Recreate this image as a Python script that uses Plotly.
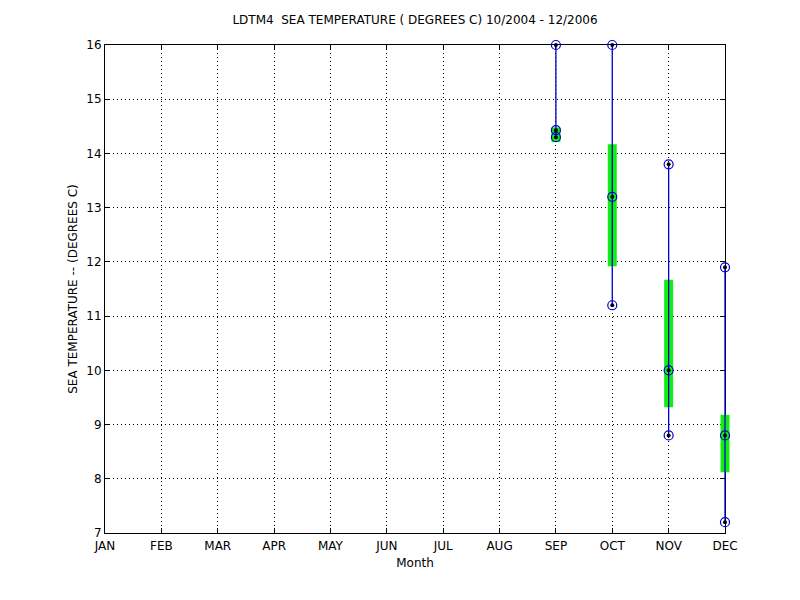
import plotly.graph_objects as go

months = ["JAN", "FEB", "MAR", "APR", "MAY", "JUN", "JUL", "AUG", "SEP", "OCT", "NOV", "DEC"]
data_month = [9, 10, 11, 12]
max_vals = [16.0, 16.0, 13.8, 11.9]
min_vals = [14.3, 11.2, 8.8, 7.2]
mean_vals = [14.43, 13.2, 10.0, 8.8]
box_low = [14.21, 11.92, 9.32, 8.12]
box_high = [14.48, 14.17, 11.67, 9.18]

W, H = 800, 600
OFF = 8  # page body margin
L, R, T, B = 95 - OFF, 65 + OFF, 45 - OFF, 67 + OFF
ax_left, ax_right = 105 - OFF, 725 - OFF
pw = W - L - R
d0 = (ax_left - L) / pw
d1 = (ax_right - L) / pw
unit = (ax_right - ax_left) / 11.0
ext_l = (ax_left - L) / unit
ext_r = (W - R - ax_right) / unit

fig = go.Figure()

# invisible trace so the main month axis is drawn
fig.add_trace(go.Scatter(x=[1, 12], y=[None, None], mode="lines", xaxis="x", yaxis="y",
                         hoverinfo="skip", showlegend=False))

# green boxes (on a wider twin axis so the DEC box is not clipped)
bx, by = [], []
for m, lo, hi in zip(data_month, box_low, box_high):
    bx += [m, m, None]
    by += [lo, hi, None]
fig.add_trace(go.Scatter(x=bx, y=by, mode="lines", xaxis="x2", yaxis="y2",
                         line=dict(color="#11ee11", width=9), hoverinfo="skip", showlegend=False))

# whiskers
lx, ly = [], []
for m, lo, hi in zip(data_month, min_vals, max_vals):
    lx += [m, m, None]
    ly += [lo, hi, None]
fig.add_trace(go.Scatter(x=lx, y=ly, mode="lines", xaxis="x2", yaxis="y2",
                         line=dict(color="#0000cc", width=1.3), showlegend=False))

# markers
px, py = [], []
for m, a, b, c in zip(data_month, max_vals, mean_vals, min_vals):
    px += [m, m, m]
    py += [a, b, c]
fig.add_trace(go.Scatter(x=px, y=py, mode="markers", xaxis="x2", yaxis="y2", cliponaxis=False,
                         marker=dict(symbol="circle-open", size=9, color="#0000cc", line=dict(width=1.2)),
                         showlegend=False))
fig.add_trace(go.Scatter(x=px, y=py, mode="markers", xaxis="x2", yaxis="y2", cliponaxis=False,
                         marker=dict(symbol="circle", size=4, color="black"),
                         showlegend=False))

FAM = "DejaVu Sans, Arial, sans-serif"
font = dict(family=FAM, size=12, color="black")

fig.update_layout(
    width=W, height=H,
    margin=dict(l=L, r=R, t=T, b=B),
    paper_bgcolor="white", plot_bgcolor="rgba(0,0,0,0)",
    font=font,
    title=dict(text="LDTM4  SEA TEMPERATURE ( DEGREES C) 10/2004 - 12/2006",
               x=0.5, xref="paper", y=1 - (20 - OFF) / H, yanchor="middle", xanchor="center",
               font=dict(size=12, family=FAM, color="black")),
    xaxis=dict(domain=[d0, d1], range=[1, 12], anchor="y",
               tickmode="array", tickvals=list(range(1, 13)), ticktext=months,
               showgrid=True, gridcolor="black", griddash="1px,3px", gridwidth=1,
               showline=True, linecolor="black", linewidth=1, mirror="ticks",
               ticks="inside", ticklen=5, tickcolor="black",
               ticklabelstandoff=2,
               zeroline=False,
               title=dict(text="Month", standoff=6, font=font)),
    xaxis2=dict(domain=[0, 1], range=[1 - ext_l, 12 + ext_r], visible=False, anchor="y2",
                showgrid=False, zeroline=False),
    yaxis=dict(range=[7, 16], anchor="x", tickmode="linear", tick0=7, dtick=1,
               showgrid=True, gridcolor="black", griddash="1px,3px", gridwidth=1,
               showline=True, linecolor="black", linewidth=1, mirror="ticks",
               ticks="inside", ticklen=5, tickcolor="black",
               zeroline=False,
               title=dict(text="SEA TEMPERATURE -- (DEGREES C)", standoff=6, font=font)),
    yaxis2=dict(range=[7, 16], anchor="x2", visible=False, showgrid=False, zeroline=False),
)

fig.write_html("out.html")
